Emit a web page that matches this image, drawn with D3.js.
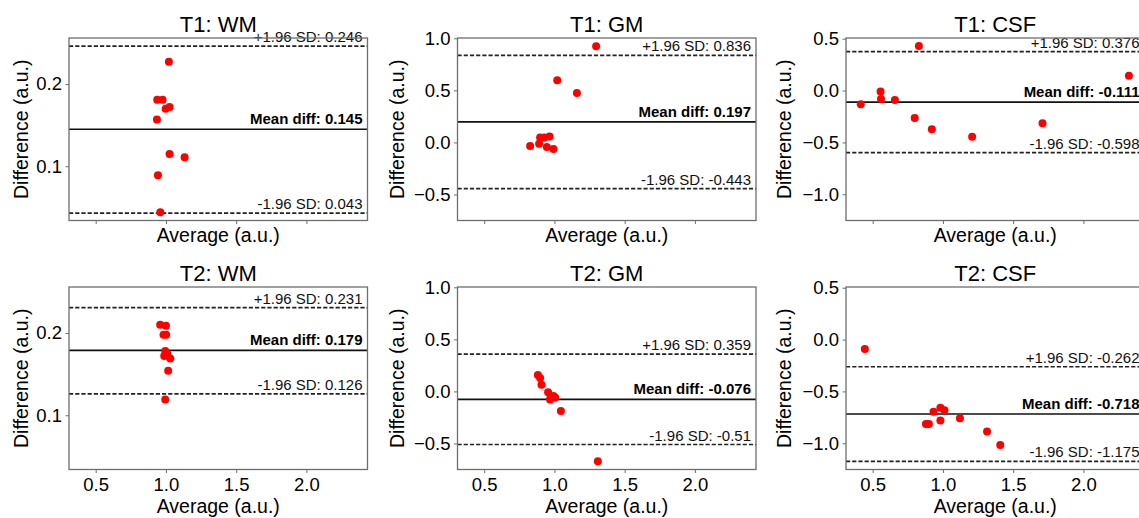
<!DOCTYPE html>
<html>
<head>
<meta charset="utf-8">
<script src="https://cdn.jsdelivr.net/npm/d3@7"></script>
<style>
	body { margin: 0; background: #fff; }
	svg { display: block; font-family: "Liberation Sans", Arial, sans-serif; }
</style>
</head>
<body>
<div id="chart"></div>
<script>
// panel titles (row 1 = T1, row 2 = T2)
var titles = ["T1: WM", "T1: GM", "T1: CSF", "T2: WM", "T2: GM", "T2: CSF"];

// average / difference per panel
var avgT1WM = [1.021, 0.938, 0.976, 0.998, 1.026, 0.936, 1.026, 1.133, 0.943, 0.960];
var diffT1WM = [0.227, 0.181, 0.181, 0.170, 0.172, 0.157, 0.115, 0.111, 0.089, 0.044];
var avgT1GM = [1.297, 1.020, 1.160, 0.827, 0.891, 0.898, 0.927, 0.965, 0.946, 0.993];
var diffT1GM = [0.923, 0.596, 0.474, -0.035, -0.013, 0.048, 0.048, 0.058, -0.045, -0.064];
var avgT1CSF = [0.415, 0.556, 0.559, 0.658, 0.829, 0.799, 0.921, 1.208, 1.709, 2.324];
var diffT1CSF = [-0.132, -0.010, -0.081, -0.090, 0.429, -0.265, -0.374, -0.445, -0.316, 0.142];
var avgT2WM = [0.959, 1.000, 0.983, 1.002, 0.995, 0.988, 1.031, 1.016, 0.995, 1.009];
var diffT2WM = [0.210, 0.209, 0.198, 0.198, 0.178, 0.172, 0.169, 0.154, 0.119, 0.175];
var avgT2GM = [0.882, 0.898, 0.908, 0.955, 0.974, 0.993, 1.005, 0.969, 1.046, 1.309];
var diffT2GM = [0.157, 0.128, 0.063, -0.007, -0.058, -0.045, -0.058, -0.077, -0.187, -0.670];
var avgT2CSF = [0.444, 0.879, 0.900, 0.933, 0.982, 1.011, 0.982, 1.121, 1.314, 1.408];
var diffT2CSF = [-0.090, -0.813, -0.813, -0.697, -0.658, -0.681, -0.781, -0.758, -0.887, -1.016];

var averages = [avgT1WM, avgT1GM, avgT1CSF, avgT2WM, avgT2GM, avgT2CSF];
var differences = [diffT1WM, diffT1GM, diffT1CSF, diffT2WM, diffT2GM, diffT2CSF];

// Bland-Altman lines
var meanDiff = [0.145, 0.197, -0.111, 0.179, -0.076, -0.718];
var upperSD = [0.246, 0.836, 0.376, 0.231, 0.359, -0.262];
var lowerSD = [0.043, -0.443, -0.598, 0.126, -0.51, -1.175];

// axes (y shared per column, x shared by all)
var xDomain = [0.31, 2.435];
var xTicks = [0.5, 1.0, 1.5, 2.0];
var yDomains = [[0.034, 0.256], [-0.75, 1.003], [-1.253, 0.507]];
var yTicks = [[0.1, 0.2], [-0.5, 0.0, 0.5, 1.0], [-1.0, -0.5, 0.0, 0.5]];

drawPanels()

function drawPanels() {
	var W = 1139, H = 518;
	var lefts = [69, 457.5, 846];
	var tops = [38, 287];
	var pw = 298.5, ph = 182.5;
	var yLabelOff = [48, 60, 61.5];
	var frameColor = "#6e6e6e";

	var svg = d3.select("#chart")
		.append("svg")
		.attr("width", W)
		.attr("height", H);

	var defs = svg.append("defs");
	defs.append("clipPath")
		.attr("id", "plotclip")
		.append("rect")
		.attr("width", pw)
		.attr("height", ph);

	var x = d3.scaleLinear().domain(xDomain).range([0, pw]);
	var fmt = d3.format(".1f");

	titles.forEach(function(t, i) {
		var col = i % 3, row = Math.floor(i / 3);
		var y = d3.scaleLinear().domain(yDomains[col]).range([ph, 0]);

		var g = svg.append("g")
			.attr("transform", `translate(${lefts[col]},${tops[row]})`);

		// y axis
		var yAxis = g.append("g")
			.call(d3.axisLeft(y).tickValues(yTicks[col]).tickFormat(fmt).tickSize(3.5).tickPadding(3.5));
		yAxis.select(".domain").remove();
		yAxis.selectAll("line").attr("stroke", frameColor);
		yAxis.selectAll("text").style("font-size", "18.5px").attr("fill", "#000");

		// x axis (labels only on bottom row)
		var xAxis = g.append("g")
			.attr("transform", `translate(0,${ph})`)
			.call(d3.axisBottom(x).tickValues(xTicks).tickFormat(row == 1 ? fmt : "").tickSize(3.5).tickPadding(5));
		xAxis.select(".domain").remove();
		xAxis.selectAll("line").attr("stroke", frameColor);
		xAxis.selectAll("text").style("font-size", "18.5px").attr("fill", "#000");

		var plot = g.append("g").attr("clip-path", "url(#plotclip)");

		// limits of agreement
		[upperSD[i], lowerSD[i]].forEach(function(v) {
			plot.append("line")
				.attr("x1", 0).attr("x2", pw)
				.attr("y1", y(v)).attr("y2", y(v))
				.attr("stroke", "#222")
				.attr("stroke-width", 1.7)
				.attr("stroke-dasharray", "4.2,2");
		});
		plot.append("line")
			.attr("x1", 0).attr("x2", pw)
			.attr("y1", y(meanDiff[i])).attr("y2", y(meanDiff[i]))
			.attr("stroke", "#111")
			.attr("stroke-width", 1.7);

		// points
		var pts = averages[i].map(function(a, k) { return { a: a, d: differences[i][k] }; });
		plot.selectAll("circle")
			.data(pts)
			.join("circle")
			.attr("cx", d => x(d.a))
			.attr("cy", d => y(d.d))
			.attr("r", 4)
			.attr("fill", "#ff0000");

		// annotations
		g.append("text")
			.attr("x", pw - 5).attr("y", y(upperSD[i]) - 4)
			.attr("text-anchor", "end")
			.style("font-size", "15px")
			.attr("fill", "#111")
			.text("+1.96 SD: " + upperSD[i]);
		g.append("text")
			.attr("x", pw - 5).attr("y", y(lowerSD[i]) - 4)
			.attr("text-anchor", "end")
			.style("font-size", "15px")
			.attr("fill", "#111")
			.text("-1.96 SD: " + lowerSD[i]);
		g.append("text")
			.attr("x", pw - 5).attr("y", y(meanDiff[i]) - 5)
			.attr("text-anchor", "end")
			.style("font-size", "15px")
			.style("font-weight", "bold")
			.text("Mean diff: " + meanDiff[i]);

		// frame
		g.append("rect")
			.attr("width", pw)
			.attr("height", ph)
			.attr("fill", "none")
			.attr("stroke", frameColor)
			.attr("stroke-width", 1.3);

		// title + axis labels
		g.append("text")
			.attr("x", pw / 2).attr("y", -6)
			.attr("text-anchor", "middle")
			.style("font-size", "22px")
			.text(t);
		g.append("text")
			.attr("x", pw / 2).attr("y", row == 1 ? ph + 43 : ph + 21)
			.attr("text-anchor", "middle")
			.style("font-size", "19.5px")
			.text("Average (a.u.)");
		g.append("text")
			.attr("transform", `translate(${-yLabelOff[col]},${ph / 2}) rotate(-90)`)
			.attr("dy", "0.35em")
			.attr("text-anchor", "middle")
			.style("font-size", "19.5px")
			.text("Difference (a.u.)");
	});
}
</script>
</body>
</html>
